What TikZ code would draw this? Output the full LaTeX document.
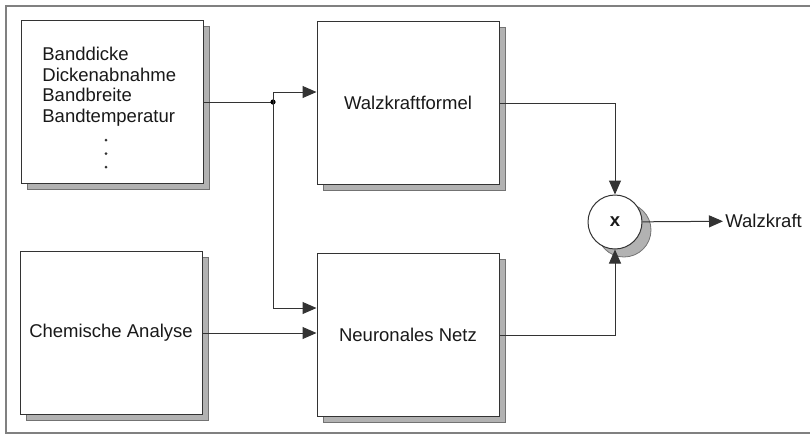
\documentclass[tikz,border=0pt]{standalone}
\usepackage{fontspec}
\setmainfont{Liberation Sans}
\usetikzlibrary{arrows.meta,shadows}
\tikzset{
  wire/.style={line width=0.5pt, draw=black!80},
  sig/.style={wire, -{Triangle[length=7pt,width=6pt]}},
  lbl/.style={font=\fontsize{9.25}{10.25}\selectfont, text=black!90},
  block/.style={lbl, draw=black!80, line width=0.5pt, fill=white, inner sep=0pt,
    minimum width=91pt, minimum height=81.5pt,
    copy shadow={shadow xshift=3pt, shadow yshift=-3pt, fill=black!30, draw=black!55, line width=0.4pt}},
  mult/.style={lbl, circle, draw=black!80, line width=0.5pt, fill=white, inner sep=0pt, minimum size=27pt,
    copy shadow={shadow xshift=4.5pt, shadow yshift=-4pt, fill=black!30, draw=black!55, line width=0.4pt}},
  bdot/.style={circle, fill=black, inner sep=0pt, minimum size=2.6pt},
  vdot/.style={circle, fill=black!80, inner sep=0pt, minimum size=1.5pt},
  frame/.style={draw=black!50, line width=1pt}
}
\begin{document}
\begin{tikzpicture}[x=0.5pt,y=-0.5pt]
  \useasboundingbox (0,0) rectangle (810,436);
  \draw[frame] (810,6) -- (6,6) -- (6,433) -- (810,433);

  % input quantities
  \node[block] (inp) at (112,102) {};
  \node[lbl, anchor=north west, align=left, inner sep=0pt] (inptxt) at (42,47)
    {Banddicke\\Dickenabnahme\\Bandbreite\\Bandtemperatur};
  \foreach \y/\n in {140/1,153.5/2,167/3}
    \node[vdot] (inpdot\n) at (106,\y) {};
  \node[block] (chem) at (111,333) {Chemische Analyse};

  % models
  \node[block] (wkf) at (408,103) {Walzkraftformel};
  \node[block] (nn) at (408,335) {Neuronales Netz};

  % multiplication and output
  \node[mult] (mul) at (615,222) {\bfseries x};
  \node[lbl, anchor=west, inner sep=1pt] (out) at (723,221) {Walzkraft};

  \coordinate (jn) at (273,102);
  \draw[wire] (inp) -- (jn);
  \node[bdot] (jdot) at (jn) {};
  \draw[sig] (jn) |- ([yshift=5.5pt]wkf.west);
  \draw[sig] (jn) |- ([yshift=13.5pt]nn.west);
  \draw[sig] (chem) -- (chem -| nn.west);
  \draw[sig] (wkf) -| (mul);
  \draw[sig] (nn) -| (mul);
  \draw[sig] (mul) -- (out);
\end{tikzpicture}
\end{document}
